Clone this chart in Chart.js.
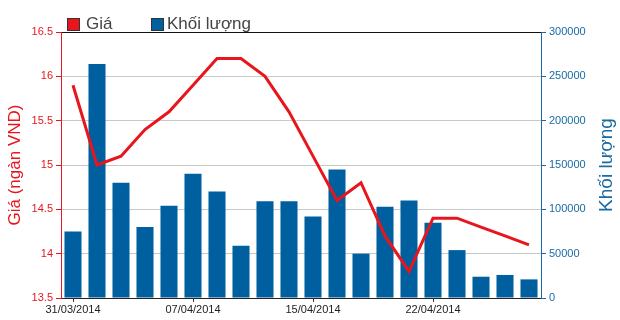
<!DOCTYPE html>
<html>
<head>
<meta charset="utf-8">
<script src="https://cdn.jsdelivr.net/npm/chart.js@4.4.0/dist/chart.umd.min.js"></script>
<style>
  html, body { margin: 0; padding: 0; background: #fff; }
  #wrap { width: 620px; height: 320px; }
</style>
</head>
<body>
<div id="wrap"><canvas id="myChart"></canvas></div>
<script>
// ngày giao dịch
var ngay = ['31/03/2014', '01/04/2014', '02/04/2014', '03/04/2014', '04/04/2014',
            '07/04/2014', '08/04/2014', '10/04/2014', '11/04/2014', '14/04/2014',
            '15/04/2014', '16/04/2014', '17/04/2014', '18/04/2014', '21/04/2014',
            '22/04/2014', '23/04/2014', '24/04/2014', '25/04/2014', '28/04/2014'];
// giá (ngàn VND)
var gia = [15.9, 15.0, 15.1, 15.4, 15.6, 15.9, 16.2, 16.2, 16.0, 15.6,
           15.1, 14.6, 14.8, 14.2, 13.8, 14.4, 14.4, 14.3, 14.2, 14.1];
// khối lượng
var khoiLuong = [75000, 264000, 130000, 80000, 104000, 140000, 120000, 59000, 109000, 109000,
                 92000, 145000, 50000, 103000, 110000, 85000, 54000, 24000, 26000, 21000];
// nhãn hiện trên trục ngang
var nhanTruc = ['31/03/2014', '07/04/2014', '15/04/2014', '22/04/2014'];

var RED = '#e8161c';
var BLUE = '#005f9e';
var BLUE_TXT = '#1a6aa3';

Chart.defaults.font.family = '"Liberation Sans", Arial, sans-serif';

var legendVaTieuDe = {
  id: 'legendVaTieuDe',
  afterDraw: function (chart) {
    var c = chart.ctx;
    c.save();
    c.lineWidth = 1;
    c.strokeStyle = '#333';
    c.fillStyle = RED;
    c.fillRect(67.5, 18.5, 12, 12);
    c.strokeRect(67.5, 18.5, 12, 12);
    c.fillStyle = BLUE;
    c.fillRect(151.5, 18.5, 12, 12);
    c.strokeRect(151.5, 18.5, 12, 12);
    c.font = '17px "Liberation Sans", Arial, sans-serif';
    c.fillStyle = '#444';
    c.textBaseline = 'middle';
    c.textAlign = 'left';
    c.fillText('Giá', 86, 24);
    c.fillText('Khối lượng', 167, 24);
    // tiêu đề trục phải
    c.translate(607, 165);
    c.rotate(-Math.PI / 2);
    c.textAlign = 'center';
    c.fillStyle = BLUE_TXT;
    c.font = '19px "Liberation Sans", Arial, sans-serif';
    c.fillText('Khối lượng', 0, 0);
    c.restore();
  }
};

var ctx = document.getElementById('myChart').getContext('2d');
var myChart = new Chart(ctx, {
  type: 'bar',
  data: {
    labels: ngay,
    datasets: [{
      type: 'line',
      label: 'Giá',
      data: gia,
      yAxisID: 'y',
      borderColor: RED,
      backgroundColor: RED,
      borderWidth: 3,
      pointRadius: 0,
      tension: 0,
      order: 0
    }, {
      type: 'bar',
      label: 'Khối lượng',
      data: khoiLuong,
      yAxisID: 'y1',
      backgroundColor: BLUE,
      barPercentage: 0.71,
      categoryPercentage: 1,
      order: 1
    }]
  },
  options: {
    responsive: true,
    maintainAspectRatio: false,
    animation: false,
    layout: { padding: { top: 32, left: 0, right: 0, bottom: 0 } },
    plugins: {
      legend: { display: false },
      tooltip: { enabled: false }
    },
    scales: {
      x: {
        grid: {
          offset: false,
          drawOnChartArea: false,
          tickLength: 4,
          color: function (c) {
            return nhanTruc.indexOf(ngay[c.index]) >= 0 ? '#333' : 'rgba(0,0,0,0)';
          }
        },
        border: { color: '#222' },
        ticks: {
          autoSkip: false,
          maxRotation: 0,
          padding: 1,
          color: '#222',
          font: { size: 11 },
          callback: function (v) {
            var l = this.getLabelForValue(v);
            return nhanTruc.indexOf(l) >= 0 ? l : '';
          }
        },
        afterFit: function (s) { s.height = 22; }
      },
      y: {
        position: 'left',
        min: 13.5,
        max: 16.5,
        ticks: {
          stepSize: 0.5,
          color: RED,
          font: { size: 11 },
          padding: 3,
          callback: function (v) { return String(v); }
        },
        grid: {
          tickLength: 5,
          tickColor: RED,
          color: function (c) {
            return c.tick && c.tick.value === 16.5 ? '#111' : '#c8c8c8';
          }
        },
        border: { color: RED },
        title: {
          display: true,
          text: 'Giá (ngàn VND)',
          color: RED,
          font: { size: 17 },
          padding: { top: 5, bottom: 0 }
        },
        afterFit: function (s) { s.width = 61; }
      },
      y1: {
        position: 'right',
        min: 0,
        max: 300000,
        ticks: {
          stepSize: 50000,
          color: BLUE_TXT,
          font: { size: 11 },
          padding: 3,
          callback: function (v) { return String(v); }
        },
        grid: { drawOnChartArea: false, tickLength: 5, tickColor: BLUE_TXT },
        border: { color: BLUE_TXT },
        afterFit: function (s) { s.width = 79; }
      }
    }
  },
  plugins: [legendVaTieuDe]
});
</script>
</body>
</html>
